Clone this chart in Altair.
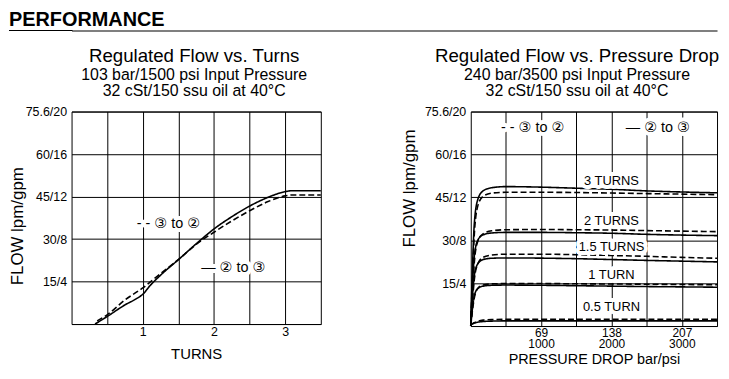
import altair as alt
import pandas as pd

FONT = "Liberation Sans, DejaVu Sans, sans-serif"

# ---------------- data: left chart (Regulated Flow vs. Turns), values in gpm ----------------
turns_solid = [0.33, 0.5, 0.75, 0.9, 1.0, 1.1, 1.25, 1.5, 1.75, 2.0, 2.25, 2.5, 2.75, 3.0, 3.1, 3.5]
flow_solid = [0.0, 0.71, 1.8, 2.35, 2.8, 3.6, 4.6, 6.06, 7.55, 8.95, 10.1, 11.1, 11.9, 12.46, 12.55, 12.55]
turns_dashed = [0.36, 0.5, 0.75, 1.0, 1.25, 1.5, 1.75, 2.0, 2.25, 2.5, 2.75, 3.0, 3.1, 3.5]
flow_dashed = [0.3, 0.87, 2.27, 3.4, 4.75, 6.06, 7.5, 8.64, 9.7, 10.66, 11.5, 12.06, 12.15, 12.15]

# ---------------- data: right chart (Regulated Flow vs. Pressure Drop), psi / gpm ----------------
psi = [0, 25, 50, 100, 175, 300, 500, 1000, 1500, 2000, 2500, 3000, 3500]
curves = {
    ("3 TURNS", "2 to 3"): [0, 5.5, 9.5, 11.8, 12.6, 12.9, 13.0, 12.95, 12.85, 12.75, 12.6, 12.5, 12.42],
    ("3 TURNS", "3 to 2"): [0, 4.5, 8.5, 11.2, 12.1, 12.4, 12.47, 12.47, 12.45, 12.4, 12.35, 12.3, 12.25],
    ("2 TURNS", "2 to 3"): [0, 3.8, 6.5, 8.0, 8.5, 8.68, 8.73, 8.73, 8.7, 8.65, 8.55, 8.48, 8.43],
    ("2 TURNS", "3 to 2"): [0, 3.2, 5.9, 7.9, 8.6, 8.88, 8.98, 9.0, 8.98, 8.95, 8.9, 8.85, 8.8],
    ("1.5 TURNS", "2 to 3"): [0, 2.8, 4.7, 5.8, 6.2, 6.32, 6.35, 6.33, 6.28, 6.2, 6.12, 6.05, 5.98],
    ("1.5 TURNS", "3 to 2"): [0, 2.4, 4.3, 5.8, 6.4, 6.62, 6.7, 6.7, 6.65, 6.58, 6.5, 6.4, 6.32],
    ("1 TURN", "2 to 3"): [0, 1.7, 2.8, 3.5, 3.72, 3.8, 3.82, 3.8, 3.76, 3.72, 3.68, 3.65, 3.62],
    ("1 TURN", "3 to 2"): [0, 1.5, 2.6, 3.5, 3.82, 3.93, 3.96, 3.96, 3.94, 3.92, 3.9, 3.87, 3.85],
    ("0.5 TURN", "2 to 3"): [0.15, 0.22, 0.28, 0.36, 0.42, 0.46, 0.48, 0.48, 0.48, 0.48, 0.48, 0.48, 0.48],
    ("0.5 TURN", "3 to 2"): [0.1, 0.2, 0.3, 0.45, 0.55, 0.6, 0.62, 0.63, 0.63, 0.63, 0.63, 0.63, 0.63],
}

# annotation labels (data coordinates)
turn_label_text = ["3 TURNS", "2 TURNS", "1.5 TURNS", "1 TURN", "0.5 TURN"]
turn_label_psi = [2000, 2000, 2000, 2000, 2000]
turn_label_gpm = [13.55, 9.77, 7.35, 4.79, 1.78]

left_legend_text = ["- - \u2462 to \u2461", "\u2014 \u2461 to \u2462"]
left_legend_x = [1.36, 2.27]
left_legend_y = [9.42, 5.3]
right_legend_text = ["- - \u2462 to \u2461", "\u2014 \u2461 to \u2462"]
right_legend_x = [880, 2660]
right_legend_y = [18.46, 18.46]

# axes
y_values = [0, 4, 8, 12, 16, 20]
y_labels = ["", "15/4", "30/8", "45/12", "60/16", "75.6/20"]
left_x_grid = [0.5, 1.0, 1.5, 2.0, 2.5, 3.0]
left_x_labeled = [1, 2, 3]
right_x_grid = [500, 1000, 1500, 2000, 2500, 3000]
right_x_psi_labels = [1000, 2000, 3000]
right_x_bar_labels = ["69", "138", "207"]

# ---------------- helpers ----------------
def ternary(pairs, default="''"):
    expr = default
    for v, lab in reversed(pairs):
        expr = f"datum.value == {v} ? {lab} : ({expr})"
    return expr

y_label_expr = ternary([(v, repr(l)) for v, l in zip(y_values, y_labels)])
left_x_expr = ternary([(v, repr(str(v))) for v in left_x_labeled])
right_x_expr = ternary([(p, f"['{b}', '{p}']") for p, b in zip(right_x_psi_labels, right_x_bar_labels)])

axis_common = dict(
    ticks=False, domain=False, grid=True, gridColor="black", gridWidth=1, gridOpacity=1,
    labelFont=FONT, titleFont=FONT, labelColor="black", titleColor="black",
    titleFontWeight="normal", labelFlush=False,
)

def y_axis(title_x, title_y):
    return alt.Axis(values=y_values, labelExpr=y_label_expr, labelFontSize=12.5, labelPadding=5,
                    title="FLOW lpm/gpm", titleFontSize=17, titleX=title_x, titleY=title_y,
                    titleAngle=270, titleBaseline="alphabetic", titleAlign="center", **axis_common)

dash_scale = alt.Scale(domain=["2 to 3", "3 to 2"], range=[[1, 0], [6, 3]])
one = pd.DataFrame({"a": [0]})

# ---------------- header (bold heading over a full-width black bar) ----------------
header_text = alt.Chart(one).mark_text(text="PERFORMANCE", font=FONT, fontSize=20, fontWeight="bold",
                                       align="left", baseline="alphabetic", color="black").encode(
    x=alt.value(-63), y=alt.value(-4))
header_left_bar = alt.Chart(one).mark_rect(color="black").encode(
    x=alt.value(-63), x2=alt.value(1), y=alt.value(0), y2=alt.value(1))
header = alt.layer(header_text, header_left_bar).properties(
    width=650, height=1, view=alt.ViewBackground(fill="black", stroke="transparent"))

# ---------------- left chart ----------------
left_df = pd.concat([
    pd.DataFrame({"turns": turns_solid, "gpm": flow_solid, "dir": "2 to 3"}),
    pd.DataFrame({"turns": turns_dashed, "gpm": flow_dashed, "dir": "3 to 2"}),
])
lx = alt.X("turns:Q", scale=alt.Scale(domain=[0, 3.5], nice=False),
           axis=alt.Axis(values=left_x_grid, labelExpr=left_x_expr, labelFontSize=12.5, labelPadding=2,
                         title="TURNS", titleFontSize=15, titleY=35, titleBaseline="alphabetic", **axis_common))
ly = alt.Y("gpm:Q", scale=alt.Scale(domain=[0, 20], nice=False), axis=y_axis(-49.5, 115))

left_lines = alt.Chart(left_df).mark_line(color="black", strokeWidth=1.6, interpolate="monotone").encode(
    x=lx, y=ly, detail="dir:N", strokeDash=alt.StrokeDash("dir:N", scale=dash_scale, legend=None))

lleg = pd.DataFrame({"x": left_legend_x, "y": left_legend_y, "t": left_legend_text})
lleg_halo = alt.Chart(lleg).mark_text(font=FONT, fontSize=14.5, color="white", stroke="white",
                                      strokeWidth=8, strokeJoin="round").encode(x="x:Q", y="y:Q", text="t:N")
lleg_text = alt.Chart(lleg).mark_text(font=FONT, fontSize=14.5, color="black").encode(x="x:Q", y="y:Q", text="t:N")

left = alt.layer(left_lines, lleg_halo, lleg_text).properties(
    width=251, height=214,
    title=alt.TitleParams("Regulated Flow vs. Turns",
                          subtitle=["103 bar/1500 psi Input Pressure", "32 cSt/150 ssu oil at 40\u00b0C"],
                          frame="group", anchor="middle", dx=-2, offset=7))

# ---------------- right chart ----------------
rows = []
for (turn, d), vals in curves.items():
    for p, v in zip(psi, vals):
        rows.append({"psi": p, "gpm": v, "dir": d, "curve": f"{turn} {d}"})
right_df = pd.DataFrame(rows)

rx = alt.X("psi:Q", scale=alt.Scale(domain=[0, 3500], nice=False),
           axis=alt.Axis(values=right_x_grid, labelExpr=right_x_expr, labelFontSize=12, labelPadding=2,
                         labelLineHeight=10.5, title="PRESSURE DROP bar/psi", titleFontSize=14.5, titleY=37.5,
                         titleBaseline="alphabetic", **axis_common))
ry = alt.Y("gpm:Q", scale=alt.Scale(domain=[0, 20], nice=False), axis=y_axis(-57, 77))

right_lines = alt.Chart(right_df).mark_line(color="black", strokeWidth=1.6, interpolate="monotone").encode(
    x=rx, y=ry, detail="curve:N", strokeDash=alt.StrokeDash("dir:N", scale=dash_scale, legend=None))

tl = pd.DataFrame({"x": turn_label_psi, "y": turn_label_gpm, "t": turn_label_text})
rleg = pd.DataFrame({"x": right_legend_x, "y": right_legend_y, "t": right_legend_text})
tl_halo = alt.Chart(tl).mark_text(font=FONT, fontSize=13, color="white", stroke="white",
                                  strokeWidth=8, strokeJoin="round").encode(x="x:Q", y="y:Q", text="t:N")
tl_text = alt.Chart(tl).mark_text(font=FONT, fontSize=13, color="black").encode(x="x:Q", y="y:Q", text="t:N")
rl_halo = alt.Chart(rleg).mark_text(font=FONT, fontSize=14.5, color="white", stroke="white",
                                    strokeWidth=8, strokeJoin="round").encode(x="x:Q", y="y:Q", text="t:N")
rl_text = alt.Chart(rleg).mark_text(font=FONT, fontSize=14.5, color="black").encode(x="x:Q", y="y:Q", text="t:N")

right = alt.layer(right_lines, tl_halo, tl_text, rl_halo, rl_text).properties(
    width=248, height=216,
    title=alt.TitleParams("Regulated Flow vs. Pressure Drop",
                          subtitle=["240 bar/3500 psi Input Pressure", "32 cSt/150 ssu oil at 40\u00b0C"],
                          frame="group", anchor="middle", dx=-17, offset=7))

panels = alt.hconcat(left, right, spacing=151, bounds="flush")
chart = alt.vconcat(header, panels, spacing=81, bounds="flush").properties(padding=0).configure_view(
    stroke="black", strokeWidth=1).configure_title(
    font=FONT, fontSize=18.8, fontWeight="normal", color="black",
    subtitleFont=FONT, subtitleFontSize=16, subtitleColor="black", subtitleLineHeight=16, subtitlePadding=1)

chart.save("out.html", embed_options={"renderer": "svg", "actions": False})
